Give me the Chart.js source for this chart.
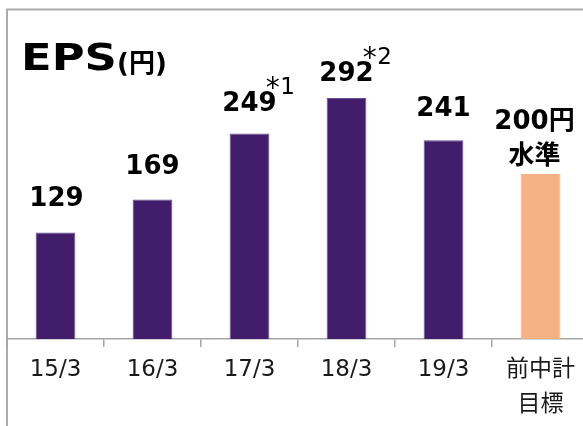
<!DOCTYPE html>
<html>
<head>
<meta charset="utf-8">
<script src="https://cdn.jsdelivr.net/npm/chart.js@4.4.1/dist/chart.umd.min.js"></script>
<style>
    html, body { margin: 0; padding: 0; overflow: hidden; background: #fff; }
    #wrap { position: relative; width: 600px; height: 440px; }
</style>
</head>
<body>
<div id="wrap"><canvas id="epsChart"></canvas></div>
<script>
// data
const categories = ['15/3', '16/3', '17/3', '18/3', '19/3', ['前中計', '目標']];
const epsValues = [129, 169, 249, 292, 241, 200];
const valueLabels = [['129'], ['169'], ['249'], ['292'], ['241'], ['200円', '水準']];
const noteMarks = ['', '', '1', '2', '', ''];

const PURPLE = '#421d6b';
const PURPLE_EDGE = '#6a4e96';
const ORANGE = '#f4b183';
const GREY = '#a6a6a6';
const LATIN = "'DejaVu Sans', 'Noto Sans CJK JP', sans-serif";

// distance from bar top to the centre of the last label line, and sideways nudge
const labelGap = [33, 32, 29, 24, 31, 17];
const labelShift = [1, 0, 0, 0, 0, -6];

const framePlugin = {
    id: 'frame',
    beforeDraw(chart) {
        const c = chart.ctx;
        c.save();
        c.strokeStyle = '#ababab';
        c.lineWidth = 2;
        c.strokeRect(7, 9.5, 700, 600);
        c.restore();
    },
    afterDraw(chart) {
        const c = chart.ctx;
        c.save();
        c.fillStyle = '#000';
        c.textBaseline = 'alphabetic';
        c.textAlign = 'left';
        // the original face is wider than DejaVu, so stretch it a little
        c.translate(21, 70);
        c.scale(1.18, 1);
        c.font = 'bold 38px ' + LATIN;
        c.fillText('EPS', 0, 0);
        c.restore();
        c.save();
        c.fillStyle = '#000';
        c.textBaseline = 'alphabetic';
        c.font = 'bold 26px ' + LATIN;
        c.fillText('(円)', 117, 72);
        c.restore();
    }
};

const valueLabelPlugin = {
    id: 'valueLabels',
    afterDatasetsDraw(chart) {
        const c = chart.ctx;
        const bars = chart.getDatasetMeta(0).data;
        c.save();
        c.fillStyle = '#000';
        bars.forEach((bar, i) => {
            const lines = valueLabels[i];
            const x = bar.x + labelShift[i];
            const lastY = bar.y - labelGap[i];
            c.textAlign = 'center';
            c.textBaseline = 'middle';
            c.font = 'bold 26px ' + LATIN;
            lines.forEach((txt, j) => {
                c.fillText(txt, x, lastY - (lines.length - 1 - j) * 35);
            });
            if (noteMarks[i]) {
                const right = x + c.measureText(lines[0]).width / 2;
                const top = lastY - 9.5;
                c.textBaseline = 'alphabetic';
                c.font = '28px ' + LATIN;
                c.fillText('*', right - 4, top + 2);
                c.font = '23px ' + LATIN;
                c.fillText(noteMarks[i], right + 11, top - 1);
            }
        });
        c.restore();
    }
};

const ctx = document.getElementById('epsChart').getContext('2d');
const epsChart = new Chart(ctx, {
    type: 'bar',
    data: {
        labels: categories,
        datasets: [{
            label: 'EPS',
            data: epsValues,
            backgroundColor: categories.map((c, i) => i === categories.length - 1 ? ORANGE : PURPLE),
            borderColor: categories.map((c, i) => i === categories.length - 1 ? ORANGE : PURPLE_EDGE),
            borderWidth: 1,
            categoryPercentage: 1,
            barPercentage: 0.41
        }]
    },
    options: {
        responsive: true,
        maintainAspectRatio: false,
        animation: false,
        layout: {
            padding: { left: 7, right: 11, top: 9, bottom: 0 }
        },
        scales: {
            y: {
                display: false,
                min: 0,
                max: 400
            },
            x: {
                afterFit: function(scale) {
                    scale.height = 101;
                },
                border: { color: GREY, width: 1.5 },
                grid: {
                    drawOnChartArea: false,
                    drawTicks: true,
                    tickLength: 8,
                    color: GREY,
                    lineWidth: 1.5
                },
                ticks: {
                    color: '#1a1a1a',
                    padding: 6,
                    font: { size: 23, family: LATIN, lineHeight: 1.52 }
                }
            }
        },
        plugins: {
            legend: { display: false },
            tooltip: { enabled: false }
        }
    },
    plugins: [framePlugin, valueLabelPlugin]
});
</script>
</body>
</html>
